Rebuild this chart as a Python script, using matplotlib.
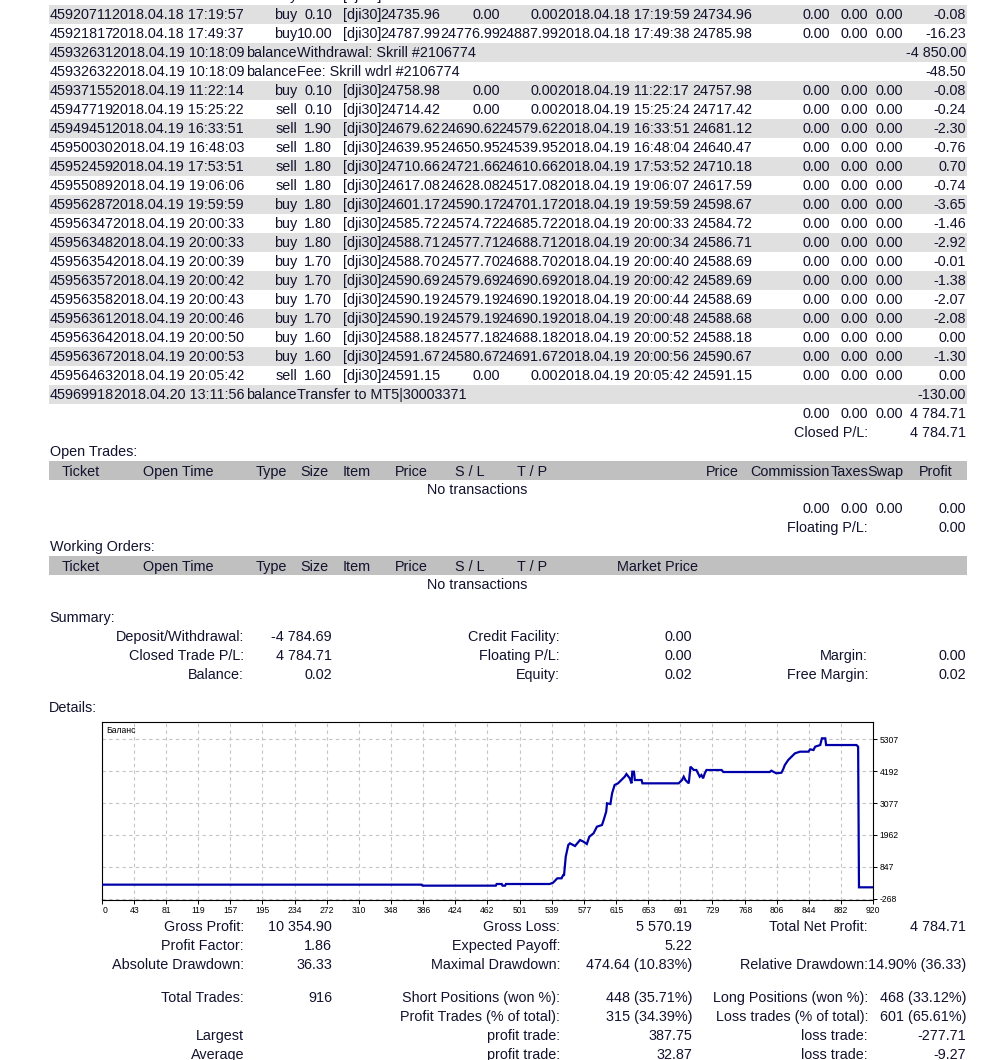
import matplotlib
matplotlib.use('Agg')
import matplotlib.pyplot as plt
from matplotlib.patches import Rectangle

W, H = 997, 1060
FONT = 'Liberation Sans'
FS = 10.35
TC = '#12122e'

# ---------------- closed transactions ----------------
# row cut off at the top edge of the page (only descenders visible)
clipped_type = 'buy'
clipped_item = '[dji30]'

tickets = ['45920711', '45921817', '45932631', '45932632', '45937155', '45947719',
           '45949451', '45950030', '45952459', '45955089', '45956287', '45956347',
           '45956348', '45956354', '45956357', '45956358', '45956361', '45956364',
           '45956367', '45956463', '45969918']
open_times = ['2018.04.18 17:19:57', '2018.04.18 17:49:37', '2018.04.19 10:18:09',
              '2018.04.19 10:18:09', '2018.04.19 11:22:14', '2018.04.19 15:25:22',
              '2018.04.19 16:33:51', '2018.04.19 16:48:03', '2018.04.19 17:53:51',
              '2018.04.19 19:06:06', '2018.04.19 19:59:59', '2018.04.19 20:00:33',
              '2018.04.19 20:00:33', '2018.04.19 20:00:39', '2018.04.19 20:00:42',
              '2018.04.19 20:00:43', '2018.04.19 20:00:46', '2018.04.19 20:00:50',
              '2018.04.19 20:00:53', '2018.04.19 20:05:42', '2018.04.20 13:11:56']
types = ['buy', 'buy', 'balance', 'balance', 'buy', 'sell', 'sell', 'sell', 'sell', 'sell',
         'buy', 'buy', 'buy', 'buy', 'buy', 'buy', 'buy', 'buy', 'buy', 'sell', 'balance']
comments = ['', '', 'Withdrawal: Skrill #2106774', 'Fee: Skrill wdrl #2106774'] + [''] * 16 + \
           ['Transfer to MT5|30003371']
sizes = ['0.10', '10.00', '', '', '0.10', '0.10', '1.90', '1.80', '1.80', '1.80', '1.80',
         '1.80', '1.80', '1.70', '1.70', '1.70', '1.70', '1.60', '1.60', '1.60', '']
items = ['[dji30]', '[dji30]', '', '', '[dji30]', '[dji30]', '[dji30]', '[dji30]', '[dji30]',
         '[dji30]', '[dji30]', '[dji30]', '[dji30]', '[dji30]', '[dji30]', '[dji30]', '[dji30]',
         '[dji30]', '[dji30]', '[dji30]', '']
prices = ['24735.96', '24787.99', '', '', '24758.98', '24714.42', '24679.62', '24639.95',
          '24710.66', '24617.08', '24601.17', '24585.72', '24588.71', '24588.70', '24590.69',
          '24590.19', '24590.19', '24588.18', '24591.67', '24591.15', '']
stop_loss = ['0.00', '24776.99', '', '', '0.00', '0.00', '24690.62', '24650.95', '24721.66',
             '24628.08', '24590.17', '24574.72', '24577.71', '24577.70', '24579.69',
             '24579.19', '24579.19', '24577.18', '24580.67', '0.00', '']
take_profit = ['0.00', '24887.99', '', '', '0.00', '0.00', '24579.62', '24539.95', '24610.66',
               '24517.08', '24701.17', '24685.72', '24688.71', '24688.70', '24690.69',
               '24690.19', '24690.19', '24688.18', '24691.67', '0.00', '']
close_times = ['2018.04.18 17:19:59', '2018.04.18 17:49:38', '', '', '2018.04.19 11:22:17',
               '2018.04.19 15:25:24', '2018.04.19 16:33:51', '2018.04.19 16:48:04',
               '2018.04.19 17:53:52', '2018.04.19 19:06:07', '2018.04.19 19:59:59',
               '2018.04.19 20:00:33', '2018.04.19 20:00:34', '2018.04.19 20:00:40',
               '2018.04.19 20:00:42', '2018.04.19 20:00:44', '2018.04.19 20:00:48',
               '2018.04.19 20:00:52', '2018.04.19 20:00:56', '2018.04.19 20:05:42', '']
close_prices = ['24734.96', '24785.98', '', '', '24757.98', '24717.42', '24681.12', '24640.47',
                '24710.18', '24617.59', '24598.67', '24584.72', '24586.71', '24588.69',
                '24589.69', '24588.69', '24588.68', '24588.18', '24590.67', '24591.15', '']
commissions = ['0.00', '0.00', '', ''] + ['0.00'] * 16 + ['']
taxes = ['0.00', '0.00', '', ''] + ['0.00'] * 16 + ['']
swaps = ['0.00', '0.00', '', ''] + ['0.00'] * 16 + ['']
profits = ['-0.08', '-16.23', '-4 850.00', '-48.50', '-0.08', '-0.24', '-2.30', '-0.76', '0.70',
           '-0.74', '-3.65', '-1.46', '-2.92', '-0.01', '-1.38', '-2.07', '-2.08', '0.00',
           '-1.30', '0.00', '-130.00']
closed_totals = ['0.00', '0.00', '0.00', '4 784.71']
closed_pl = '4 784.71'
open_totals = ['0.00', '0.00', '0.00', '0.00']
floating_pl = '0.00'

# ---------------- summary ----------------
summary_rows = [
    [('Deposit/Withdrawal:', '-4 784.69'), ('Credit Facility:', '0.00'), None],
    [('Closed Trade P/L:', '4 784.71'), ('Floating P/L:', '0.00'), ('Margin:', '0.00')],
    [('Balance:', '0.02'), ('Equity:', '0.02'), ('Free Margin:', '0.02')],
]
stats_rows = [
    [('Gross Profit:', '10 354.90'), ('Gross Loss:', '5 570.19'), ('Total Net Profit:', '4 784.71')],
    [('Profit Factor:', '1.86'), ('Expected Payoff:', '5.22'), None],
    [('Absolute Drawdown:', '36.33'), ('Maximal Drawdown:', '474.64 (10.83%)'),
     ('Relative Drawdown:', '14.90% (36.33)')],
    [('Total Trades:', '916'), ('Short Positions (won %):', '448 (35.71%)'),
     ('Long Positions (won %):', '468 (33.12%)')],
    [None, ('Profit Trades (% of total):', '315 (34.39%)'),
     ('Loss trades (% of total):', '601 (65.61%)')],
    [('Largest', ''), ('profit trade:', '387.75'), ('loss trade:', '-277.71')],
    [('Average', ''), ('profit trade:', '32.87'), ('loss trade:', '-9.27')],
]

# ---------------- balance chart ----------------
bal_idx = [0, 384, 385, 472, 473, 479, 480, 483, 484, 536,
           540, 545, 550, 552, 553, 555, 558, 560, 566, 572,
           576, 580, 583, 588, 592, 598, 600, 603, 604, 608,
           610, 613, 617, 621, 625, 627, 631, 633, 634, 636,
           637, 645, 646, 689, 693, 695, 697, 701, 703, 707,
           710, 712, 714, 716, 718, 720, 722, 740, 742, 797,
           799, 805, 811, 813, 815, 819, 823, 827, 833, 843,
           845, 849, 851, 857, 859, 863, 864, 900, 902, 903, 920]
bal_val = [219, 219, 184, 184, 242, 242, 184, 184, 242, 242,
           289, 441, 441, 557, 557, 1199, 1607, 1666, 1572, 1782,
           1724, 1642, 1899, 2016, 2249, 2307, 2482, 2774, 3066, 3042,
           3416, 3707, 3766, 3882, 3999, 4092, 3941, 3766, 4174, 4174,
           3882, 3882, 3766, 3766, 3882, 3999, 3882, 3766, 4349, 4232,
           4232, 4116, 3999, 4057, 3941, 4116, 4232, 4232, 4162, 4162,
           4209, 4116, 4139, 4256, 4407, 4582, 4699, 4816, 4874, 4874,
           4956, 4932, 5049, 5107, 5341, 5341, 5107, 5107, 5049, 126, 126]
x_ticks = [0, 43, 81, 119, 157, 195, 234, 272, 310, 348, 386, 424, 462, 501, 539,
           577, 615, 653, 691, 729, 768, 806, 844, 882, 920]
y_ticks = [5307, 4192, 3077, 1962, 847, -268]
chart_title = 'Баланс'

# ================= drawing =================
fig = plt.figure(figsize=(W / 100, H / 100), dpi=100)
bg = fig.add_axes([0, 0, 1, 1])
bg.set_xlim(0, W)
bg.set_ylim(H, 0)
bg.axis('off')


def t(x, yc, s, ha='left', **kw):
    bg.text(x, yc + 5.1, s, ha=ha, va='baseline', fontsize=FS, family=FONT, color=TC, **kw)


ROW0, PITCH = 14.3, 19.0
t(297, ROW0 - PITCH, clipped_type, ha='right')
t(343, ROW0 - PITCH, clipped_item)
for i in range(len(tickets)):
    yc = ROW0 + PITCH * i
    if i % 2 == 0:
        bg.add_patch(Rectangle((49, yc - 9.5), 918, 19, color='#e0e0e0', lw=0))
    t(50, yc, tickets[i])
    t(244, yc, open_times[i], ha='right')
    t(297, yc, types[i], ha='right')
    if types[i] == 'balance':
        t(297, yc, comments[i])
    else:
        t(332, yc, sizes[i], ha='right')
        t(343, yc, items[i])
        t(440, yc, prices[i], ha='right')
        t(500, yc, stop_loss[i], ha='right')
        t(558, yc, take_profit[i], ha='right')
        t(558, yc, close_times[i])
        t(752, yc, close_prices[i], ha='right')
        t(830, yc, commissions[i], ha='right')
        t(868, yc, taxes[i], ha='right')
        t(903, yc, swaps[i], ha='right')
    t(966, yc, profits[i], ha='right')

yc = ROW0 + PITCH * len(tickets)
for x, s in zip([830, 868, 903, 966], closed_totals):
    t(x, yc, s, ha='right')
t(868, yc + 19, 'Closed P/L:', ha='right')
t(966, yc + 19, closed_pl, ha='right')

# Open trades
t(50, 451, 'Open Trades:')
hdr_c = [(81, 'Ticket'), (178, 'Open Time'), (271, 'Type'), (314, 'Size'), (356.5, 'Item'),
         (411, 'Price'), (470, 'S / L'), (532, 'T / P')]
bg.add_patch(Rectangle((49, 461), 918, 19, color='#c0c0c0', lw=0))
for x, s in hdr_c + [(722.5, 'Price'), (935.5, 'Profit')]:
    t(x, 470.5, s, ha='center')
for x, s in [(830, 'Commission'), (868, 'Taxes'), (903, 'Swap')]:
    t(x, 470.5, s, ha='right')
t(477, 489, 'No transactions', ha='center')
for x, s in zip([830, 868, 903, 966], open_totals):
    t(x, 508, s, ha='right')
t(868, 527, 'Floating P/L:', ha='right')
t(966, 527, floating_pl, ha='right')

# Working orders
t(50, 546, 'Working Orders:')
bg.add_patch(Rectangle((49, 556), 918, 19, color='#c0c0c0', lw=0))
for x, s in hdr_c + [(657, 'Market Price')]:
    t(x, 565.5, s, ha='center')
t(477, 584, 'No transactions', ha='center')

# Summary
t(49, 617, 'Summary:')
cols = [(244, 332), (560, 692), (868, 966)]
for r, row in enumerate(summary_rows):
    yc = 636 + 19 * r
    for (lx, vx), cell in zip(cols, row):
        if cell:
            t(lx, yc, cell[0], ha='right')
            t(vx, yc, cell[1], ha='right')
t(49, 707, 'Details:')

# Stats
stat_y = [926, 945, 964, 997, 1016, 1035, 1054]
for yc, row in zip(stat_y, stats_rows):
    for (lx, vx), cell in zip(cols, row):
        if cell:
            t(lx, yc, cell[0], ha='right')
            t(vx, yc, cell[1], ha='right')

# Chart
x0, x1, y0, y1 = 102.3, 873.3, 722, 900
ax = fig.add_axes([x0 / W, 1 - y1 / H, (x1 - x0) / W, (y1 - y0) / H])
ax.plot(bal_idx, bal_val, color='#0000a8', lw=1.6, solid_joinstyle='miter', zorder=3)
ax.set_xlim(5, 920)
ax.set_ylim(-318, 5913)
ax.set_xticks([5] + x_ticks[1:])
ax.set_xticklabels([str(v) for v in x_ticks], fontsize=6.2, family=FONT, color='black')
ax.get_xticklabels()[0].set_ha('left')
ax.set_yticks(y_ticks)
ax.set_yticklabels([str(v) for v in y_ticks], fontsize=6.2, family=FONT, color='black')
ax.yaxis.tick_right()
ax.tick_params(axis='both', length=3, width=0.7, pad=1.5, direction='out')
ax.grid(True, ls=(0, (3, 3)), color='#c4c4c4', lw=0.8)
for s in ax.spines.values():
    s.set_color('black')
    s.set_linewidth(0.8)
ax.text(0.005, 0.955, chart_title, transform=ax.transAxes, fontsize=6.2, family=FONT,
        color='black', ha='left', va='center')

fig.savefig('out.png', dpi=100)
